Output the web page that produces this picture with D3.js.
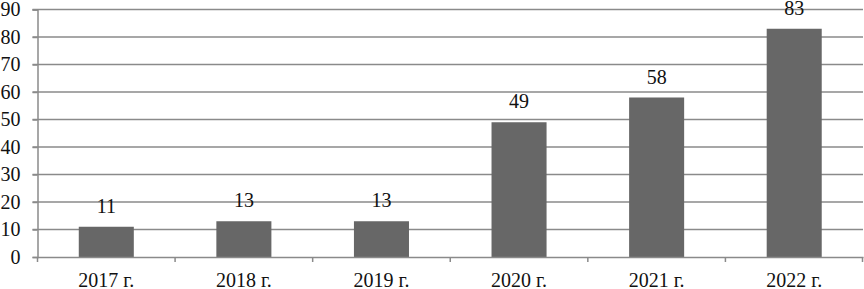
<!DOCTYPE html>
<html>
<head>
<meta charset="utf-8">
<script src="https://cdn.jsdelivr.net/npm/d3@7"></script>
</head>
<body style="margin:0; background:#fff">
<svg id="chart" width="864" height="289" style="font-family: 'Liberation Serif'"></svg>
<script>
const years = ["2017 г.", "2018 г.", "2019 г.", "2020 г.", "2021 г.", "2022 г."];
const counts = [11, 13, 13, 49, 58, 83];
const yTicks = [0, 10, 20, 30, 40, 50, 60, 70, 80, 90];

const width = 864, height = 289;
const margin = {top: 9.5, right: 1, bottom: 32, left: 37.5};
const gridColor = "#8a8a8a";

const svg = d3.select("#chart");

const x = d3.scaleBand().domain(years).range([margin.left, width - margin.right]).padding(0);
const y = d3.scaleLinear().domain([0, 90]).range([height - margin.bottom, margin.top]);

// gridlines
svg.append("g")
  .selectAll("line")
  .data(yTicks.filter(d => d > 0))
  .join("line")
  .attr("x1", margin.left - 5)
  .attr("x2", width - margin.right)
  .attr("y1", d => y(d))
  .attr("y2", d => y(d))
  .attr("stroke", gridColor)
  .attr("stroke-width", 1.5);

// bars
const barW = x.bandwidth() * 0.4;
svg.append("g")
  .selectAll("rect")
  .data(counts)
  .join("rect")
  .attr("x", (d, i) => x(years[i]) + (x.bandwidth() - barW) / 2)
  .attr("y", d => y(d))
  .attr("width", barW)
  .attr("height", d => y(0) - y(d))
  .attr("fill", "#676767");

// value labels
svg.append("g")
  .selectAll("text")
  .data(counts)
  .join("text")
  .attr("x", (d, i) => x(years[i]) + x.bandwidth() / 2)
  .attr("y", d => y(d) - 14)
  .attr("text-anchor", "middle")
  .attr("font-family", "Liberation Serif")
  .attr("font-size", 20)
  .attr("fill", "#111")
  .text(d => d);

// y axis
const yAxis = svg.append("g")
  .attr("transform", `translate(${margin.left},0)`)
  .call(d3.axisLeft(y).tickValues(yTicks).tickSize(5).tickPadding(12))
  .attr("font-family", "Times New Roman")
  .attr("font-size", 20);
yAxis.selectAll("path, line").attr("stroke", gridColor).attr("stroke-width", 1.5);
yAxis.selectAll("text").attr("fill", "#111");

// x axis
const xAxis = svg.append("g")
  .attr("transform", `translate(0,${y(0)})`)
  .call(d3.axisBottom(x).tickSize(0).tickPadding(0))
  .attr("font-family", null)
  .attr("font-size", 20);
xAxis.select(".domain").attr("stroke", gridColor).attr("stroke-width", 1.5);
xAxis.selectAll("text").attr("fill", "#111").attr("dy", 0).attr("y", 30);

// category boundary ticks
const bounds = years.map(d => x(d)).concat([x(years[years.length - 1]) + x.bandwidth()]);
svg.append("g")
  .selectAll("line")
  .data(bounds)
  .join("line")
  .attr("x1", d => Math.min(d, width - 1.5))
  .attr("x2", d => Math.min(d, width - 1.5))
  .attr("y1", y(0))
  .attr("y2", y(0) + 5)
  .attr("stroke", gridColor)
  .attr("stroke-width", 1.5);
</script>
</body>
</html>
